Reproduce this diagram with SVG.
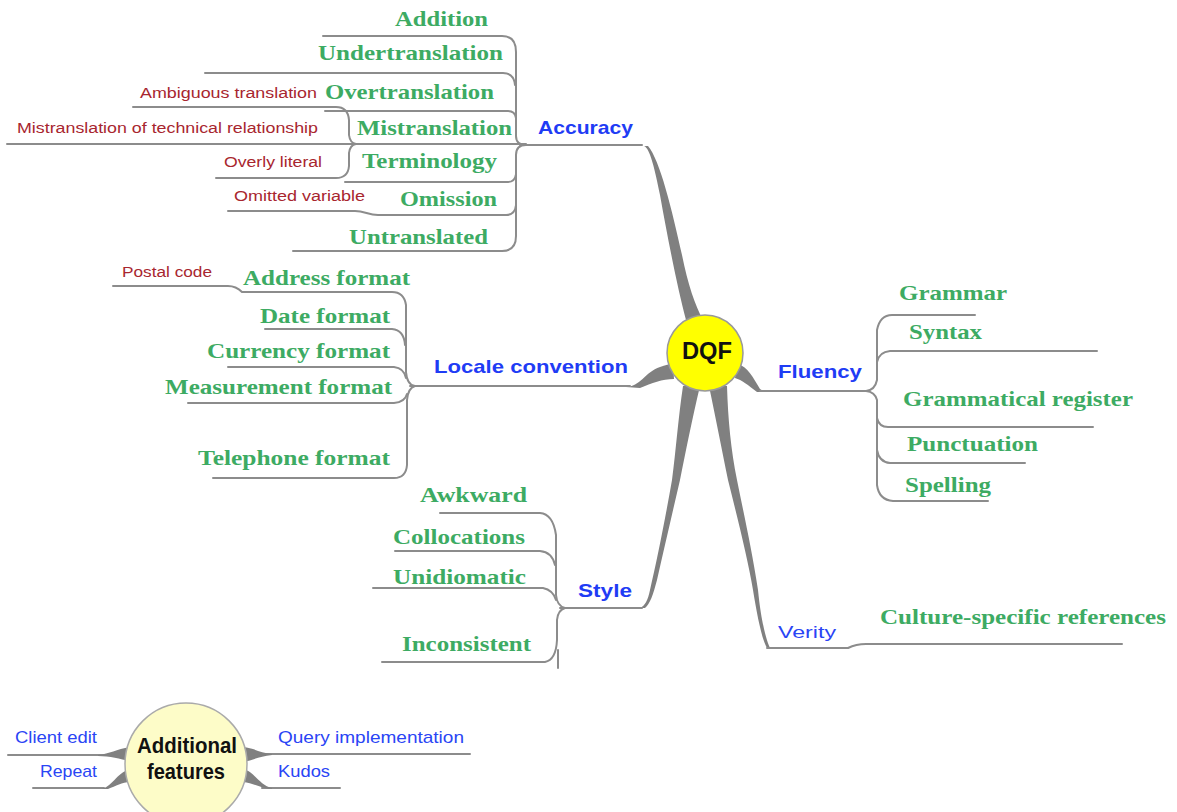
<svg xmlns="http://www.w3.org/2000/svg" width="1177" height="812" viewBox="0 0 1177 812">
<style>
.g{font-family:"Liberation Serif",serif;font-weight:bold;font-size:21px;fill:#3dab63}
.r{font-family:"Liberation Sans",sans-serif;font-size:15.5px;fill:#a8262f}
.b{font-family:"Liberation Sans",sans-serif;font-weight:bold;font-size:19px;fill:#1f3cf5}
.bn{font-family:"Liberation Sans",sans-serif;font-size:17px;fill:#2a45f5}
.k{font-family:"Liberation Sans",sans-serif;font-weight:bold;fill:#111}
.ln{fill:none;stroke:#8c8c8c;stroke-width:2;stroke-linecap:round}
.th{fill:#808080;stroke:none}
</style>
<rect width="1177" height="812" fill="#fff"/>
<g id="connectors">
<path class="th" d="M640 146 L644 146 C650 148 655 170 660 195 C668 240 678 290 686 320 L703 320 C695 305 688 285 682 255 C672 210 660 160 648 146 Z"/>
<path class="th" d="M626 387 C640 387 645 372 660 367 C665 365 670 364 673 363 L674 379 C662 379 652 383 640 388 Z"/>
<path class="th" d="M737 364 C748 366 753 378 760 389 L765 392 L757 392 C748 385 742 380 735 378 Z"/>
<path class="th" d="M683 386 C678 420 676 450 672 480 C665 520 657 560 650 590 C648 600 645 606 640 608 L645 608 C650 604 653 595 657 580 C665 545 673 510 680 480 C686 450 692 420 700 386 Z"/>
<path class="th" d="M709 386 C716 420 722 450 728 480 C738 520 748 560 753 590 C757 615 762 640 767 648 L770 648 C766 640 761 620 758 590 C752 550 744 515 737 480 C731 450 728 420 727 386 Z"/>
<path class="ln" d="M520 145 H642"/>
<path class="ln" d="M323 36 H502 Q516 36 516 52 V136 Q516 145 526 145"/>
<path class="ln" d="M205 73 H503 Q514 73 515 85"/>
<path class="ln" d="M325 111 H508 Q515 111 516 118"/>
<path class="ln" d="M7 144 H526"/>
<path class="ln" d="M345 182 H508 Q515 182 516 174"/>
<path class="ln" d="M228 211 H355 C365 211 368 215 378 215 H506 Q515 215 516 205"/>
<path class="ln" d="M293 251 H502 Q516 251 516 236 V155 Q516 145 526 145"/>
<path class="ln" d="M133 107 H336 Q348 107 349 120 V135 Q350 143 356 144"/>
<path class="ln" d="M216 178 H336 Q348 178 349 166 V153 Q350 145 356 144"/>
<path class="ln" d="M410 386 H630"/>
<path class="ln" d="M113 286 H228 Q236 286 242 292 H392 Q404 292 406 305 V372 Q407 385 415 386"/>
<path class="ln" d="M265 329 H392 Q404 330 405 345"/>
<path class="ln" d="M228 367 H394 Q404 368 406 378"/>
<path class="ln" d="M188 403 H394 Q405 402 407 394"/>
<path class="ln" d="M213 478 H394 Q406 478 407 465 V400 Q408 388 415 386"/>
<path class="ln" d="M760 391 H868"/>
<path class="ln" d="M975 315 H892 Q880 315 877 330 V380 Q875 390 866 391"/>
<path class="ln" d="M1097 351 H890 Q879 352 877 362"/>
<path class="ln" d="M1093 427 H888 Q879 427 877 418"/>
<path class="ln" d="M1025 463 H890 Q879 462 877 450"/>
<path class="ln" d="M988 501 H893 Q879 500 877 485 V400 Q875 392 866 391"/>
<path class="ln" d="M560 608 H642"/>
<path class="ln" d="M440 513 H540 Q553 514 556 535 V595 Q557 606 565 608"/>
<path class="ln" d="M395 551 H540 Q552 552 555 565"/>
<path class="ln" d="M373 588 H543 Q553 590 556 600"/>
<path class="ln" d="M382 662 H545 Q556 660 557 640 V620 Q558 610 565 608"/>
<path class="ln" d="M558 650 V668"/>
<path class="ln" d="M767 648 H848 Q856 644 866 644 H1122"/>
<path class="ln" d="M8 755 H104"/>
<path class="th" d="M98 755 C110 754 116 749 130 747 L130 761 C120 759 110 756 98 756 Z"/>
<path class="ln" d="M33 788 H104"/>
<path class="th" d="M100 789 C112 788 116 773 130 769 L130 782 C122 782 116 786 108 789 Z"/>
<path class="ln" d="M262 754 H470"/>
<path class="th" d="M243 747 C254 748 260 753 272 754 L272 755 C260 756 254 760 243 762 Z"/>
<path class="ln" d="M262 788 H340"/>
<path class="th" d="M243 769 C254 771 260 786 272 788 L272 789 C262 789 254 783 243 782 Z"/>
</g>
<g id="dqf">
<circle cx="705" cy="353" r="38" fill="#ffff00" stroke="#999" stroke-width="1.5"/>
<text class="k" x="707" y="359" font-size="24" text-anchor="middle" textLength="50" lengthAdjust="spacingAndGlyphs">DQF</text>
</g>
<g id="accuracy">
<text class="b" x="538" y="134" textLength="95" lengthAdjust="spacingAndGlyphs">Accuracy</text>
<text class="g" x="395" y="26" textLength="93" lengthAdjust="spacingAndGlyphs">Addition</text>
<text class="g" x="318" y="60" textLength="185" lengthAdjust="spacingAndGlyphs">Undertranslation</text>
<text class="g" x="325" y="99" textLength="169" lengthAdjust="spacingAndGlyphs">Overtranslation</text>
<text class="g" x="357" y="135" textLength="155" lengthAdjust="spacingAndGlyphs">Mistranslation</text>
<text class="g" x="362" y="168" textLength="135" lengthAdjust="spacingAndGlyphs">Terminology</text>
<text class="g" x="400" y="206" textLength="97" lengthAdjust="spacingAndGlyphs">Omission</text>
<text class="g" x="349" y="244" textLength="139" lengthAdjust="spacingAndGlyphs">Untranslated</text>
<text class="r" x="140" y="98" textLength="177" lengthAdjust="spacingAndGlyphs">Ambiguous translation</text>
<text class="r" x="17" y="133" textLength="301" lengthAdjust="spacingAndGlyphs">Mistranslation of technical relationship</text>
<text class="r" x="224" y="167" textLength="98" lengthAdjust="spacingAndGlyphs">Overly literal</text>
<text class="r" x="234" y="201" textLength="131" lengthAdjust="spacingAndGlyphs">Omitted variable</text>
</g>
<g id="locale">
<text class="b" x="434" y="373" textLength="194" lengthAdjust="spacingAndGlyphs">Locale convention</text>
<text class="g" x="243" y="285" textLength="167" lengthAdjust="spacingAndGlyphs">Address format</text>
<text class="g" x="260" y="323" textLength="130" lengthAdjust="spacingAndGlyphs">Date format</text>
<text class="g" x="207" y="358" textLength="183" lengthAdjust="spacingAndGlyphs">Currency format</text>
<text class="g" x="165" y="394" textLength="227" lengthAdjust="spacingAndGlyphs">Measurement format</text>
<text class="g" x="198" y="465" textLength="192" lengthAdjust="spacingAndGlyphs">Telephone format</text>
<text class="r" x="122" y="277" textLength="90" lengthAdjust="spacingAndGlyphs">Postal code</text>
</g>
<g id="fluency">
<text class="b" x="778" y="378" textLength="84" lengthAdjust="spacingAndGlyphs">Fluency</text>
<text class="g" x="899" y="300" textLength="108" lengthAdjust="spacingAndGlyphs">Grammar</text>
<text class="g" x="909" y="339" textLength="73" lengthAdjust="spacingAndGlyphs">Syntax</text>
<text class="g" x="903" y="406" textLength="230" lengthAdjust="spacingAndGlyphs">Grammatical register</text>
<text class="g" x="907" y="451" textLength="131" lengthAdjust="spacingAndGlyphs">Punctuation</text>
<text class="g" x="905" y="492" textLength="86" lengthAdjust="spacingAndGlyphs">Spelling</text>
</g>
<g id="style">
<text class="b" x="578" y="597" textLength="54" lengthAdjust="spacingAndGlyphs">Style</text>
<text class="g" x="420" y="502" textLength="107" lengthAdjust="spacingAndGlyphs">Awkward</text>
<text class="g" x="393" y="544" textLength="132" lengthAdjust="spacingAndGlyphs">Collocations</text>
<text class="g" x="393" y="584" textLength="133" lengthAdjust="spacingAndGlyphs">Unidiomatic</text>
<text class="g" x="402" y="651" textLength="129" lengthAdjust="spacingAndGlyphs">Inconsistent</text>
</g>
<g id="verity">
<text class="bn" x="778" y="638" font-size="19" textLength="58" lengthAdjust="spacingAndGlyphs">Verity</text>
<text class="g" x="880" y="624" textLength="286" lengthAdjust="spacingAndGlyphs">Culture-specific references</text>
</g>
<g id="additional">
<circle cx="186" cy="764" r="61" fill="#fdfcc8" stroke="#aaa" stroke-width="1.5"/>
<text class="k" x="187" y="753" font-size="22" text-anchor="middle" textLength="100" lengthAdjust="spacingAndGlyphs">Additional</text>
<text class="k" x="186" y="779" font-size="22" text-anchor="middle" textLength="78" lengthAdjust="spacingAndGlyphs">features</text>
<text class="bn" x="15" y="743" textLength="82" lengthAdjust="spacingAndGlyphs">Client edit</text>
<text class="bn" x="40" y="777" textLength="57" lengthAdjust="spacingAndGlyphs">Repeat</text>
<text class="bn" x="278" y="743" textLength="186" lengthAdjust="spacingAndGlyphs">Query implementation</text>
<text class="bn" x="278" y="777" textLength="52" lengthAdjust="spacingAndGlyphs">Kudos</text>
</g>
</svg>
